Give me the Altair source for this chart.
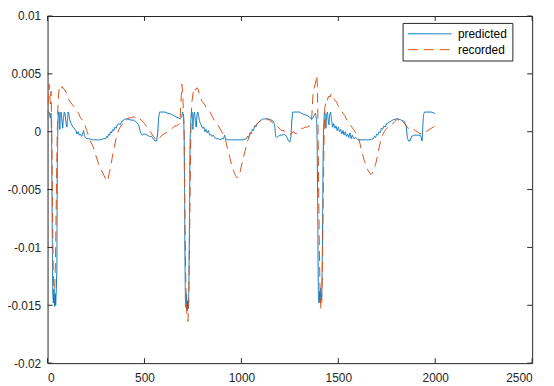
import altair as alt
import pandas as pd

# ---- data ----
pred_x = [0, 8, 14, 18, 21, 24, 27, 30, 33, 36, 39, 42, 45, 48, 50, 53, 56, 60, 63, 66, 70, 74, 78, 82, 86, 90,
          95, 100, 106, 110, 115, 122, 130, 138, 146, 152, 158, 164, 170, 176, 182, 186, 190, 195, 202, 215, 230,
          250, 270, 290, 300, 305, 310, 315, 320, 325, 330, 336, 342, 348, 354, 360, 368, 375, 383, 392, 402, 415,
          430, 445, 460, 470, 480, 488, 495, 505, 515, 525, 535, 545, 555, 562, 568, 573, 578, 590, 605, 620, 640,
          660, 675, 685, 692, 697, 702,
          705, 708, 711, 714, 717, 720, 723, 726, 729, 732, 735, 738, 742, 746, 750, 754, 758, 763, 767, 771, 775,
          780, 786, 792, 800, 806, 812, 818, 824, 830, 836, 842, 848, 855, 862, 870, 880, 890, 900, 908, 913, 918,
          930, 950, 970, 990, 1010, 1025, 1032, 1038, 1044, 1050, 1056, 1062, 1068, 1075, 1082, 1090, 1100, 1110,
          1125, 1140, 1155, 1165, 1172, 1177, 1183, 1190, 1200, 1210, 1220, 1228, 1236, 1243, 1250, 1256, 1260,
          1265, 1280, 1300, 1320, 1340, 1355, 1365, 1375, 1382, 1388,
          1391, 1394, 1397, 1400, 1403, 1406, 1409, 1412, 1415, 1418, 1421, 1424, 1428, 1432, 1436, 1440, 1444,
          1448, 1452, 1456, 1460, 1464, 1470, 1476, 1482, 1488, 1494, 1500, 1506, 1512, 1518, 1524, 1530, 1536,
          1542, 1548, 1554, 1560, 1566, 1572, 1580, 1590, 1600, 1620, 1640, 1660, 1680, 1686, 1692, 1698, 1704,
          1710, 1716, 1722, 1728, 1735, 1742, 1750, 1760, 1770, 1780, 1795, 1810, 1825, 1840, 1850, 1856, 1862,
          1870, 1878, 1888, 1900, 1912, 1922, 1928, 1932, 1936, 1940, 1945, 1960, 1980, 1995, 2000]
pred_y = [0.0017, 0.0017, 0.0012, 0.0016, -0.0005, -0.0080, -0.0140, -0.0148, -0.0136, -0.0151, -0.0140, -0.0150,
          -0.0137, -0.0120, -0.0040, 0.0005, 0.0017, 0.0017, 0.0002, 0.0015, 0.0017, 0.0010, 0.0003, 0.0012, 0.0017,
          0.0016, 0.0008, 0.0004, 0.0017, 0.0015, 0.0010, 0.0007, 0.0004, 0.0003, 0.0001, -0.0002, 0.0000, -0.0003,
          -0.0002, -0.0004, -0.0001, 0.0001, -0.0003, -0.0005, -0.0006, -0.0006, -0.0007, -0.0007, -0.0007,
          -0.0006, -0.0006, -0.0004, -0.0005, -0.0002, -0.0003, 0.0000, -0.0001, 0.0002, 0.0001, 0.0004, 0.0003,
          0.0006, 0.0007, 0.0006, 0.0009, 0.0010, 0.0011, 0.0011, 0.0010, 0.0010, 0.0008, 0.0006, -0.0001, -0.0003,
          -0.0002, -0.0002, -0.0003, -0.0004, -0.0004, -0.0006, -0.0008, -0.0008, -0.0002, 0.0012, 0.0017, 0.0017,
          0.0017, 0.0016, 0.0015, 0.0013, 0.0012, 0.0011, 0.0013, 0.0017, 0.0012,
          -0.0005, -0.0090, -0.0145, -0.0152, -0.0140, -0.0155, -0.0146, -0.0153, -0.0135, -0.0080, -0.0010,
          0.0005, 0.0017, 0.0017, 0.0002, 0.0015, 0.0017, 0.0008, 0.0004, 0.0015, 0.0017, 0.0013, 0.0008, 0.0006,
          0.0003, 0.0004, 0.0000, 0.0002, -0.0001, 0.0001, -0.0003, -0.0002, -0.0004, -0.0003, -0.0005, -0.0006,
          -0.0006, -0.0007, -0.0006, -0.0006, -0.0003, -0.0006, -0.0007, -0.0007, -0.0007, -0.0007, -0.0007,
          -0.0006, -0.0004, -0.0005, -0.0001, -0.0002, 0.0002, 0.0001, 0.0005, 0.0004, 0.0007, 0.0008, 0.0010,
          0.0011, 0.0011, 0.0011, 0.0010, 0.0009, 0.0005, -0.0004, -0.0005, -0.0004, -0.0003, -0.0003, -0.0002,
          -0.0003, -0.0005, -0.0008, -0.0009, -0.0004, 0.0010, 0.0017, 0.0017, 0.0017, 0.0015, 0.0014, 0.0012,
          0.0011, 0.0014, 0.0016, 0.0010,
          -0.0010, -0.0080, -0.0140, -0.0148, -0.0138, -0.0147, -0.0135, -0.0146, -0.0140, -0.0100, -0.0030,
          0.0003, 0.0017, 0.0016, 0.0003, 0.0015, 0.0017, 0.0010, 0.0006, 0.0015, 0.0017, 0.0012, 0.0004, 0.0007,
          0.0003, 0.0005, 0.0001, 0.0004, 0.0000, 0.0002, -0.0002, 0.0001, -0.0003, 0.0000, -0.0004, -0.0002,
          -0.0005, -0.0001, -0.0006, -0.0003, -0.0006, -0.0005, -0.0007, -0.0007, -0.0007, -0.0007, -0.0006,
          -0.0004, -0.0005, -0.0002, -0.0003, 0.0000, -0.0001, 0.0003, 0.0002, 0.0005, 0.0004, 0.0007, 0.0008,
          0.0009, 0.0010, 0.0011, 0.0011, 0.0010, 0.0009, 0.0005, -0.0005, -0.0008, -0.0008, -0.0004, -0.0003,
          -0.0003, -0.0003, -0.0003, -0.0005, -0.0008, 0.0005, 0.0015, 0.0017, 0.0017, 0.0017, 0.0016, 0.0016]

rec_x = [0, 4, 8, 12, 15, 18, 21, 25, 29, 33, 37, 41, 45, 49, 53, 58, 63, 70, 76, 82, 90, 98, 106, 112, 120, 130,
         140, 150, 160, 170, 180, 190, 200, 210, 220, 235, 250, 265, 280, 292, 300, 306, 312, 318, 325, 333, 342,
         352, 360, 368, 378, 390, 400, 410, 420, 432, 445, 455, 465, 475, 485, 495, 505, 515, 525, 535, 545, 555,
         565, 572, 580, 590, 600, 610, 620, 632, 645, 655, 665, 675, 683, 688, 693, 697, 700, 704,
         708, 712, 716, 720, 724, 728, 732, 736, 740, 744, 748, 752, 757, 763, 770, 776, 782, 788, 794, 802, 810,
         818, 826, 834, 842, 850, 860, 870, 878, 888, 898, 905, 913, 921, 929, 940, 950, 960, 970, 978, 985, 992,
         998, 1005, 1012, 1020, 1030, 1040, 1048, 1058, 1070, 1082, 1094, 1106, 1117, 1128, 1136, 1142, 1150,
         1160, 1170, 1180, 1190, 1200, 1210, 1220, 1230, 1240, 1250, 1260, 1270, 1280, 1290, 1300, 1310, 1320,
         1330, 1340, 1350, 1358, 1364, 1370, 1376, 1382, 1386, 1389, 1392, 1395,
         1398, 1402, 1406, 1410, 1414, 1418, 1422, 1426, 1430, 1435, 1440, 1446, 1452, 1458, 1464, 1470, 1476,
         1482, 1490, 1498, 1506, 1515, 1524, 1533, 1541, 1550, 1560, 1570, 1578, 1586, 1594, 1602, 1610, 1618,
         1626, 1634, 1643, 1652, 1660, 1668, 1674, 1680, 1686, 1694, 1702, 1710, 1718, 1728, 1737, 1745, 1756,
         1768, 1781, 1792, 1804, 1812, 1820, 1828, 1837, 1846, 1855, 1862, 1870, 1880, 1890, 1898, 1908, 1916,
         1923, 1932, 1940, 1950, 1960, 1970, 1980, 1990, 2000]
rec_y = [0.0010, 0.0030, 0.0041, 0.0030, 0.0024, 0.0035, 0.0010, -0.0060, -0.0120, -0.0137, -0.0135, -0.0110,
         -0.0060, -0.0010, 0.0020, 0.0035, 0.0039, 0.0037, 0.0039, 0.0037, 0.0036, 0.0033, 0.0029, 0.0027, 0.0025,
         0.0023, 0.0021, 0.0018, 0.0016, 0.0012, 0.0010, 0.0007, 0.0002, -0.0003, -0.0008, -0.0013, -0.0021,
         -0.0029, -0.0034, -0.0038, -0.0041, -0.0039, -0.0041, -0.0036, -0.0031, -0.0023, -0.0015, -0.0007,
         -0.0002, 0.0002, 0.0005, 0.0007, 0.0009, 0.0011, 0.0012, 0.0012, 0.0013, 0.0012, 0.0013, 0.0011, 0.0010,
         0.0008, 0.0006, 0.0003, 0.0001, -0.0001, -0.0004, -0.0006, -0.0008, -0.0007, -0.0005, -0.0003, -0.0002,
         -0.0001, 0.0000, 0.0002, 0.0003, 0.0005, 0.0005, 0.0006, 0.0008, 0.0025, 0.0041, 0.0034, 0.0020, 0.0005,
         -0.0060, -0.0120, -0.0150, -0.0160, -0.0164, -0.0150, -0.0100, -0.0040, 0.0005, 0.0025, 0.0030, 0.0035,
         0.0038, 0.0036, 0.0038, 0.0037, 0.0033, 0.0030, 0.0027, 0.0025, 0.0024, 0.0021, 0.0019, 0.0018, 0.0016,
         0.0013, 0.0010, 0.0008, 0.0006, 0.0003, 0.0000, -0.0002, -0.0004, -0.0009, -0.0015, -0.0022, -0.0029,
         -0.0034, -0.0038, -0.0040, -0.0038, -0.0036, -0.0031, -0.0026, -0.0021, -0.0016, -0.0009, -0.0004,
         -0.0001, 0.0003, 0.0005, 0.0007, 0.0009, 0.0010, 0.0011, 0.0012, 0.0010, 0.0011, 0.0009, 0.0008, 0.0007,
         0.0005, 0.0004, 0.0002, 0.0001, 0.0001, -0.0001, -0.0002, -0.0003, -0.0001, 0.0000, -0.0002, 0.0000,
         0.0001, 0.0003, 0.0003, 0.0004, 0.0004, 0.0005, 0.0006, 0.0015, 0.0035, 0.0038, 0.0042, 0.0045, 0.0049,
         0.0040, 0.0010,
         -0.0040, -0.0100, -0.0140, -0.0153, -0.0150, -0.0120, -0.0060, -0.0010, 0.0020, 0.0025, 0.0024, 0.0029,
         0.0031, 0.0030, 0.0033, 0.0032, 0.0029, 0.0027, 0.0026, 0.0023, 0.0021, 0.0019, 0.0016, 0.0014, 0.0011,
         0.0009, 0.0006, 0.0004, 0.0002, 0.0000, -0.0002, -0.0004, -0.0009, -0.0015, -0.0020, -0.0025, -0.0029,
         -0.0033, -0.0035, -0.0037, -0.0036, -0.0034, -0.0031, -0.0027, -0.0021, -0.0014, -0.0008, -0.0003,
         0.0000, 0.0002, 0.0004, 0.0006, 0.0007, 0.0009, 0.0011, 0.0010, 0.0012, 0.0009, 0.0008, 0.0006, 0.0004,
         0.0003, 0.0003, 0.0001, 0.0002, 0.0001, 0.0000, -0.0001, -0.0002, 0.0000, -0.0001, 0.0000, 0.0001,
         0.0002, 0.0003, 0.0004, 0.0005]

series_names = ["predicted", "recorded"]
series_colors = ["#0072BD", "#D95319"]
x_ticks = [0, 500, 1000, 1500, 2000, 2500]
y_ticks = [-0.02, -0.015, -0.01, -0.005, 0, 0.005, 0.01]

W, H = 490, 351
FONT = "Liberation Sans"
AX = "#262626"
TL = 5

pred = pd.DataFrame({"x": pred_x, "y": pred_y, "series": "predicted"})
rec = pd.DataFrame({"x": rec_x, "y": rec_y, "series": "recorded"})
xt = pd.DataFrame({"v": x_ticks})
yt = pd.DataFrame({"v": y_ticks})

xscale = alt.Scale(domain=[0, 2500], nice=False, zero=False)
yscale = alt.Scale(domain=[-0.02, 0.01], nice=False, zero=False)


def make_legend():
    return alt.Legend(title=None, orient="none", legendX=359, legendY=7,
                      symbolType="M-1,0H6.33", symbolSize=144, symbolStrokeWidth=1,
                      labelFont=FONT, labelFontSize=12, labelColor="#000000",
                      labelOffset=38, padding=5, rowPadding=4, clipHeight=12,
                      strokeColor=AX, fillColor="white", cornerRadius=0)


color = alt.Color("series:N", scale=alt.Scale(domain=series_names, range=series_colors),
                  legend=make_legend())
dash = alt.StrokeDash("series:N", scale=alt.Scale(domain=series_names, range=[[1, 0], [10, 6]]),
                      legend=make_legend())

xaxis = alt.Axis(values=x_ticks, title=None, grid=False, domain=False, ticks=False,
                 labelFont=FONT, labelFontSize=12, labelColor=AX, labelPadding=10, format="d")
yaxis = alt.Axis(values=y_ticks, title=None, grid=False, domain=False, ticks=False,
                 labelFont=FONT, labelFontSize=12, labelColor=AX, labelPadding=7,
                 labelExpr="'' + datum.value")

line_pred = alt.Chart(pred).mark_line(strokeWidth=1, clip=True).encode(
    x=alt.X("x:Q", scale=xscale, axis=xaxis),
    y=alt.Y("y:Q", scale=yscale, axis=yaxis),
    color=color, strokeDash=dash, order="x:Q")
line_rec = alt.Chart(rec).mark_line(strokeWidth=1, clip=True).encode(
    x=alt.X("x:Q", scale=xscale, axis=xaxis),
    y=alt.Y("y:Q", scale=yscale, axis=yaxis),
    color=color, strokeDash=dash, order="x:Q")

tick_b = alt.Chart(xt).mark_rule(color=AX, strokeWidth=1).encode(
    x=alt.X("v:Q", scale=xscale, axis=xaxis), y=alt.value(H - TL), y2=alt.value(H))
tick_t = alt.Chart(xt).mark_rule(color=AX, strokeWidth=1).encode(
    x=alt.X("v:Q", scale=xscale, axis=xaxis), y=alt.value(0), y2=alt.value(TL))
tick_l = alt.Chart(yt).mark_rule(color=AX, strokeWidth=1).encode(
    y=alt.Y("v:Q", scale=yscale, axis=yaxis), x=alt.value(0), x2=alt.value(TL))
tick_r = alt.Chart(yt).mark_rule(color=AX, strokeWidth=1).encode(
    y=alt.Y("v:Q", scale=yscale, axis=yaxis), x=alt.value(W - TL), x2=alt.value(W))

chart = alt.layer(line_pred, line_rec, tick_b, tick_t, tick_l, tick_r).properties(
    width=W, height=H,
    padding={"left": 40, "top": 6, "right": 14, "bottom": 20},
    autosize=alt.AutoSizeParams(type="none"),
    background="white",
).configure_view(stroke=AX, strokeWidth=1)

chart.save("out.html", embed_options={"renderer": "svg", "actions": False})
